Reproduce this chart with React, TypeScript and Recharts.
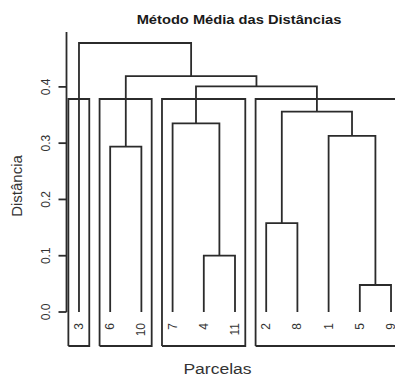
import React from 'react';
import { ComposedChart, Line, XAxis, YAxis, ReferenceLine } from 'recharts';

// ---- data ----
const LEAF_LABELS = ['3', '6', '10', '7', '4', '11', '2', '8', '1', '5', '9'];
// merges (like hclust$merge): leaf names, or '#k' for merge k (1-based)
const MERGE_A = ['4', '5', '2', '6', '1', '7', '#3', '#6', '#4', '3'];
const MERGE_B = ['11', '9', '8', '10', '#2', '#1', '#5', '#7', '#8', '#9'];
const MERGE_HEIGHTS = [0.1, 0.048, 0.158, 0.294, 0.313, 0.335, 0.356, 0.401, 0.419, 0.478];
const CLUSTERS = [['3'], ['6', '10'], ['7', '4', '11'], ['2', '8', '1', '5', '9']];
const Y_TICKS = [0, 0.1, 0.2, 0.3, 0.4];
const TITLE = 'Método Média das Distâncias';
const X_LABEL = 'Parcelas';
const Y_LABEL = 'Distância';

// ---- layout / style ----
const X_MIN = 0.6;
const X_MAX = 11.4;
const Y_MIN = -0.0604;
const Y_MAX = 0.4975;
const RECT_PAD_L = 0.34;
const RECT_PAD_R = 0.33;
const STROKE = '#2b2b2b';
const SW = 1.8;
const FONT = '"Liberation Sans", Arial, sans-serif';

const leafX = (name: string) => LEAF_LABELS.indexOf(name) + 1;

type Node = { x: number; h: number };
const nodes: Node[] = [];
const getNode = (ref: string): Node =>
  ref.startsWith('#') ? nodes[parseInt(ref.slice(1), 10) - 1] : { x: leafX(ref), h: 0 };

const linkSeries: { x: number; y: number }[][] = [];
MERGE_HEIGHTS.forEach((h, i) => {
  const a = getNode(MERGE_A[i]);
  const b = getNode(MERGE_B[i]);
  nodes.push({ x: (a.x + b.x) / 2, h });
  linkSeries.push([
    { x: a.x, y: a.h },
    { x: a.x, y: h },
    { x: b.x, y: h },
    { x: b.x, y: b.h },
  ]);
});

const sortedDesc = [...MERGE_HEIGHTS].sort((p, q) => q - p);
const k = CLUSTERS.length;
const CUT = (sortedDesc[k - 2] + sortedDesc[k - 1]) / 2;

const rectSeries = CLUSTERS.map((c) => {
  const xs = c.map(leafX);
  const l = Math.min(...xs) - RECT_PAD_L;
  const r = Math.max(...xs) + RECT_PAD_R;
  return [
    { x: l, y: Y_MIN },
    { x: l, y: CUT },
    { x: r, y: CUT },
    { x: r, y: Y_MIN },
    { x: l, y: Y_MIN },
  ];
});

const LeafTick = (props: any) => {
  const { x, payload } = props;
  const label = LEAF_LABELS[Math.round(payload.value) - 1];
  return (
    <text
      transform={`translate(${x},323) rotate(-90)`}
      textAnchor="end"
      dy="0.33em"
      fontSize={12}
      fontFamily={FONT}
      fill="#333"
    >
      {label}
    </text>
  );
};

const YTick = (props: any) => {
  const { y, payload } = props;
  return (
    <text
      transform={`translate(50,${y}) rotate(-90)`}
      textAnchor="middle"
      fontSize={12}
      fontFamily={FONT}
      fill="#333"
    >
      {Number(payload.value).toFixed(1)}
    </text>
  );
};

export default function App() {
  return (
    <div
      style={{
        position: 'absolute',
        left: 0,
        top: 0,
        width: 395,
        height: 376,
        overflow: 'hidden',
        background: '#fff',
      }}
    >
      <ComposedChart
        width={404}
        height={376}
        margin={{ top: 32, right: 0.5, bottom: 0, left: 0.5 }}
      >
        <XAxis
          type="number"
          dataKey="x"
          domain={[X_MIN, X_MAX]}
          ticks={LEAF_LABELS.map((_, i) => i + 1)}
          tick={<LeafTick />}
          tickLine={false}
          axisLine={false}
          height={30}
          interval={0}
        />
        <YAxis
          type="number"
          dataKey="y"
          domain={[Y_MIN, Y_MAX]}
          ticks={Y_TICKS}
          tick={<YTick />}
          tickSize={8}
          tickLine={{ stroke: STROKE, strokeWidth: SW }}
          axisLine={false}
          width={66}
          interval={0}
        />
        <ReferenceLine
          segment={[
            { x: X_MIN, y: 0 },
            { x: X_MIN, y: Y_MAX },
          ]}
          stroke={STROKE}
          strokeWidth={SW}
        />
        {linkSeries.map((d, i) => (
          <Line
            key={`l${i}`}
            data={d}
            dataKey="y"
            type="linear"
            stroke={STROKE}
            strokeWidth={SW}
            dot={false}
            activeDot={false}
            isAnimationActive={false}
          />
        ))}
        {rectSeries.map((d, i) => (
          <Line
            key={`r${i}`}
            data={d}
            dataKey="y"
            type="linear"
            stroke={STROKE}
            strokeWidth={SW}
            dot={false}
            activeDot={false}
            isAnimationActive={false}
          />
        ))}
        <text
          transform="translate(239,24) scale(1.13,1)"
          textAnchor="middle"
          fontSize={13}
          fontWeight="bold"
          fontFamily={FONT}
          fill="#1a1a1a"
        >
          {TITLE}
        </text>
        <text
          transform="translate(217.5,373.5) scale(1.17,1)"
          textAnchor="middle"
          fontSize={15}
          fontFamily={FONT}
          fill="#333"
        >
          {X_LABEL}
        </text>
        <text
          transform="translate(21.5,186) rotate(-90)"
          textAnchor="middle"
          fontSize={15}
          fontFamily={FONT}
          fill="#333"
        >
          {Y_LABEL}
        </text>
      </ComposedChart>
    </div>
  );
}
